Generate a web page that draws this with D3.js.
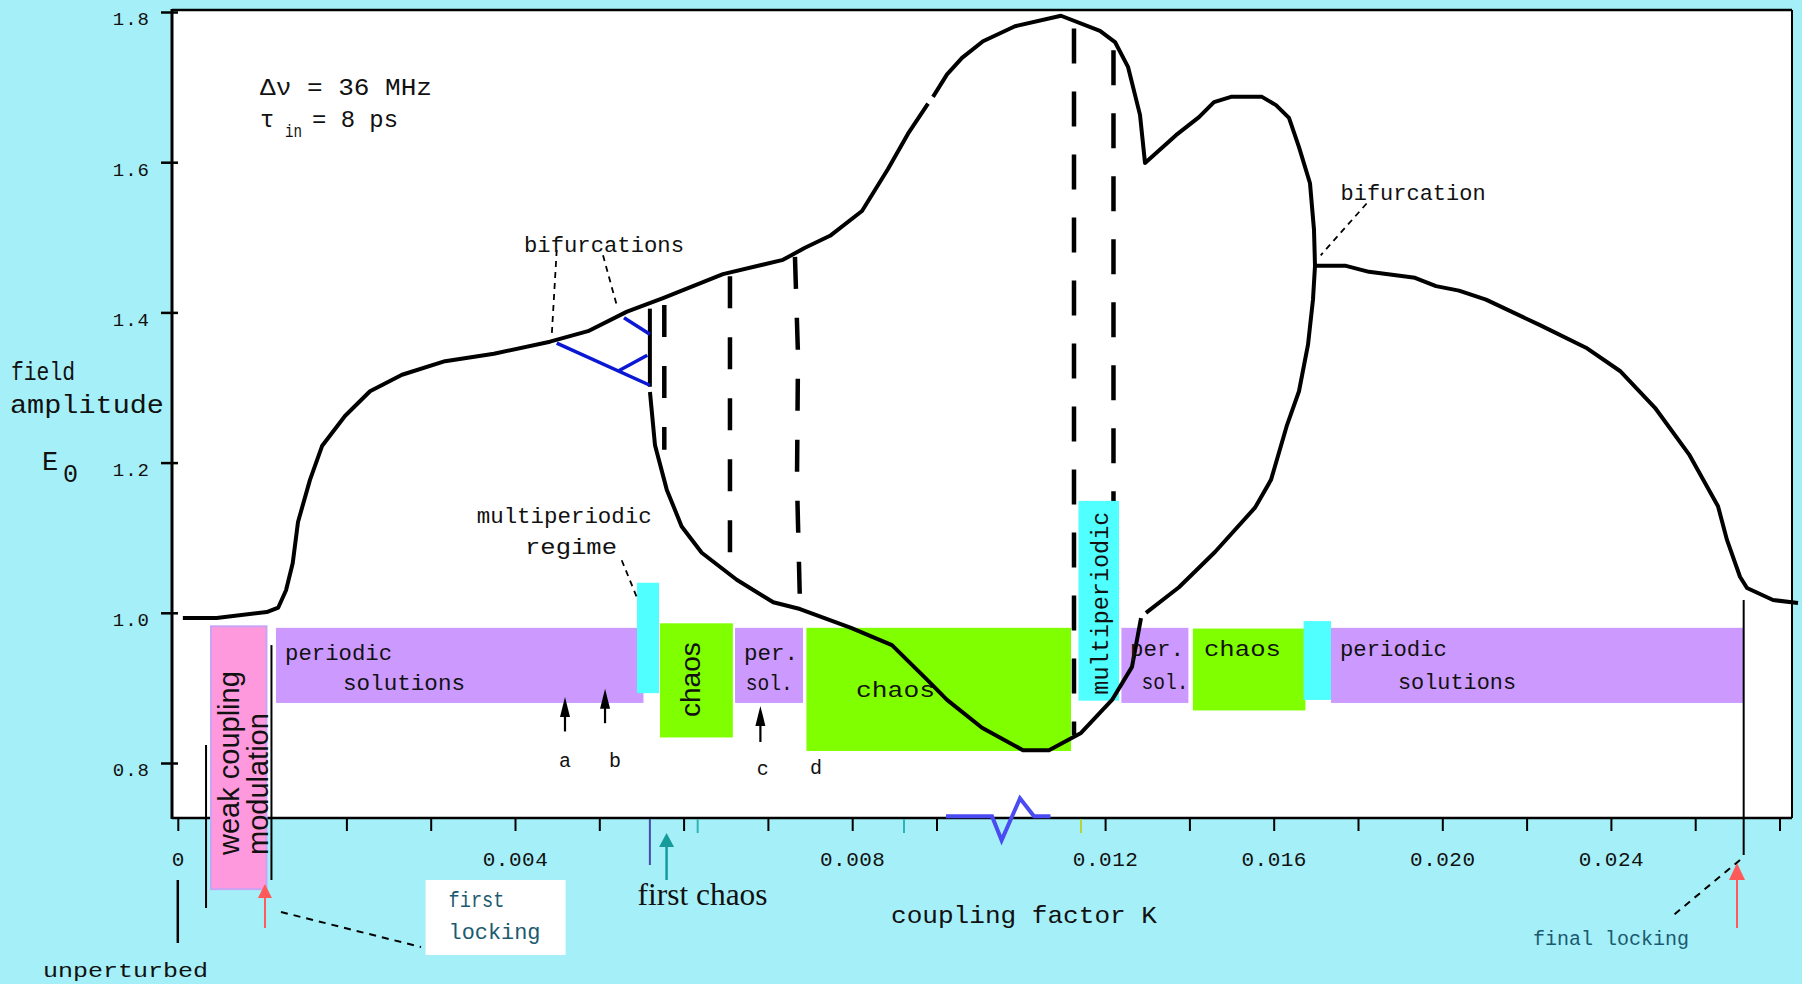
<!DOCTYPE html>
<html>
<head>
<meta charset="utf-8">
<title>Field amplitude vs coupling factor</title>
<script src="https://cdn.jsdelivr.net/npm/d3@7/dist/d3.min.js"></script>
<style>
  html, body { margin: 0; padding: 0; background: #a5f0f8; }
  svg { display: block; }
</style>
</head>
<body>
<svg id="chart" width="1802" height="984"></svg>
<script>
// ---------- axis definitions ----------
// the coupling axis is drawn piecewise: equal tick slots carry different K steps
const kBreaks     = [0, 0.008, 0.012, 0.028];
const kBreakSlots = [0, 8, 11, 19];
const xTickK  = [0, 0.001, 0.002, 0.003, 0.004, 0.005, 0.006, 0.007, 0.008, 0.009333,
                 0.012, 0.014, 0.016, 0.018, 0.020, 0.022, 0.024, 0.026, 0.028];
const xLabelK = [0, 0.004, 0.008, 0.012, 0.016, 0.020, 0.024];
const eTicks  = [0.8, 1.0, 1.2, 1.4, 1.6, 1.8];

// ---------- field amplitude branches [K, E0] ----------
const upperLeft = [
  [0.00006, 0.993], [0.00046, 0.993], [0.001055, 1.001], [0.001192, 1.007], [0.001284, 1.030],
  [0.001363, 1.066], [0.001426, 1.121], [0.001568, 1.177], [0.001711, 1.222], [0.001983, 1.262],
  [0.00228, 1.295], [0.00266, 1.317], [0.00317, 1.335], [0.00375, 1.345], [0.004415, 1.361],
  [0.004866, 1.375], [0.005329, 1.401], [0.005756, 1.419], [0.006467, 1.451], [0.007179, 1.470],
  [0.00744, 1.486], [0.007737, 1.502], [0.008155, 1.535], [0.008566, 1.591], [0.008883, 1.638],
  [0.009199, 1.678]
];
const upperRight = [
  [0.009278, 1.687], [0.0095, 1.717], [0.009737, 1.739], [0.010069, 1.761], [0.010575, 1.781],
  [0.011302, 1.795], [0.011919, 1.775], [0.012235, 1.760], [0.012543, 1.727], [0.012828, 1.663],
  [0.012947, 1.599], [0.013682, 1.636], [0.014228, 1.660], [0.014584, 1.680], [0.014987, 1.687],
  [0.015722, 1.687], [0.016055, 1.676], [0.016363, 1.659], [0.0166, 1.620], [0.016861, 1.572],
  [0.016956, 1.510], [0.01698, 1.462], [0.016932, 1.417], [0.016814, 1.357], [0.0166, 1.295],
  [0.016316, 1.250], [0.015936, 1.177], [0.015556, 1.140], [0.014607, 1.081], [0.013753, 1.034],
  [0.01297, 1.000]
];
const lowerLoop = [
  [0.005601, 1.294], [0.005661, 1.223], [0.0058, 1.164], [0.005977, 1.115], [0.006215, 1.080],
  [0.00663, 1.044], [0.007064, 1.014], [0.007381, 1.005], [0.007986, 0.980], [0.008629, 0.957],
  [0.009183, 0.911], [0.0095, 0.884], [0.010053, 0.847], [0.010701, 0.817], [0.011113, 0.817],
  [0.011619, 0.840], [0.012164, 0.884], [0.012638, 0.928], [0.012852, 0.993]
];
const rightBranch = [
  [0.01698, 1.462], [0.017715, 1.462], [0.018261, 1.454], [0.019352, 1.446], [0.019851, 1.435],
  [0.020396, 1.429], [0.021037, 1.417], [0.022318, 1.383], [0.023409, 1.353], [0.024216, 1.322],
  [0.025046, 1.273], [0.025853, 1.211], [0.026541, 1.142], [0.026754, 1.097], [0.027063, 1.048],
  [0.027229, 1.033], [0.027846, 1.017], [0.028439, 1.013]
];
const splitEdge = [[0.0056, 1.405], [0.0056, 1.301]];

// period-doubling branches
const doublingArms = [
  [[0.004495, 1.359], [0.0056, 1.303]],
  [[0.005293, 1.393], [0.0056, 1.371]],
  [[0.005225, 1.322], [0.005569, 1.343]]
];

// unstable / boundary lines
const boundaryShort = [
  [[0.005771, 1.410], [0.005771, 1.217]],
  [[0.00655, 1.448], [0.00655, 1.070]],
  [[0.007321, 1.474], [0.007357, 1.343], [0.007345, 1.174], [0.007381, 1.009]]
];
const boundaryLong = [
  [[0.011508, 1.778], [0.011508, 0.837]],
  [[0.012199, 1.749], [0.012199, 0.884]]
];

// ---------- regime bands ----------
const regimeKind   = ["weak", "periodic", "chaos", "periodic", "chaos", "periodic", "chaos", "periodic", "multi", "multi", "multi"];
const regimeKStart = [0.000394, 0.001165, 0.00572, 0.00661, 0.007457, 0.012387, 0.014083, 0.017359, 0.005447, 0.011579, 0.016709];
const regimeKEnd   = [0.001052, 0.005524, 0.006584, 0.007416, 0.011461, 0.013976, 0.016752, 0.027158, 0.005708, 0.01233, 0.017359];
const regimeELow   = [0.632, 0.880, 0.834, 0.880, 0.816, 0.880, 0.870, 0.880, 0.893, 0.883, 0.884];
const regimeEHigh  = [0.982, 0.980, 0.986, 0.980, 0.980, 0.980, 0.979, 0.980, 1.040, 1.149, 0.989];

const bandText = ["periodic", "solutions", "per.", "sol.", "chaos", "per.", "sol.", "chaos", "periodic", "solutions"];
const bandTextK = [0.001272, 0.00196, 0.006716, 0.006736, 0.00806, 0.012591, 0.012864, 0.014346, 0.017573, 0.018949];
const bandTextE = [0.937, 0.897, 0.937, 0.897, 0.888, 0.942, 0.899, 0.942, 0.942, 0.898];

const uprightText = ["weak coupling", "modulation", "chaos", "multiperiodic"];
const uprightK = [0.000726, 0.00107, 0.006195, 0.012069];
const uprightE = [0.6775, 0.6775, 0.911, 0.891];

// ---------- marked solutions a-d ----------
const pointName = ["a", "b", "c", "d"];
const pointArrowK = [0.004593, 0.005068, 0.006911];
const pointArrowTipE = [0.888, 0.899, 0.876];
const pointArrowTailE = [0.842, 0.853, 0.828];
const pointLabelK = [0.004593, 0.005186, 0.006938, 0.007571];
const pointLabelE = [0.795, 0.795, 0.784, 0.785];

// ---------- events on the coupling axis ----------
const firstLockingK = 0.001034;
const finalLockingK = 0.026992;
const firstChaosK = 0.005798;
const eventTickK = [0.0056, 0.006167, 0.008819, 0.011619];
const markerK = [0, 0.000335, 0.001111, 0.02715];
const markerETop = [0.6442, 0.824, 0.957, 1.017];
const markerEBottom = [0.5603, 0.6069, 0.6442, 0.6775];
const resonanceK = [0.009484, 0.010211, 0.010363, 0.010654, 0.010875, 0.011136];
const resonanceE = [0.729, 0.729, 0.697, 0.753, 0.729, 0.729];

// ---------- layout ----------
const svg = d3.select("#chart");
const plot = { left: 172, right: 1792, top: 10, bottom: 818 };
const slot = 84.3, slot0 = plot.left + 5.8;
const x = d3.scaleLinear().domain(kBreaks).range(kBreakSlots.map(s => slot0 + s * slot));
const y = d3.scaleLinear().domain([0.8, 1.8]).range([763, 12]);
const line = d3.line().x(d => x(d[0])).y(d => y(d[1]));

const MONO = "'Liberation Mono', 'Courier New', monospace";
const SANS = "'Liberation Sans', Arial, sans-serif";
const SERIF = "'Liberation Serif', 'Times New Roman', serif";
const INK = "#111";
const TEAL_TEXT = "#1b5a70";

svg.attr("font-family", MONO).attr("fill", INK);

const regimeFill = { weak: "#ff99dd", periodic: "#cc99ff", chaos: "#80ff00", multi: "#50ffff" };

// white plotting area
svg.append("rect")
  .attr("x", plot.left).attr("y", plot.top)
  .attr("width", plot.right - plot.left).attr("height", plot.bottom - plot.top)
  .attr("fill", "#fff");

// ---------- axes ----------
const gx = svg.append("g").attr("transform", `translate(0,${plot.bottom})`)
  .call(d3.axisBottom(x).tickValues(xTickK).tickSize(13).tickFormat(""));
gx.select(".domain").remove();
gx.selectAll(".tick line").attr("stroke", "#000").attr("stroke-width", 2);

const gxl = svg.append("g").attr("transform", `translate(0,${plot.bottom})`)
  .call(d3.axisBottom(x).tickValues(xLabelK).tickSize(0).tickPadding(33)
    .tickFormat(d => d === 0 ? "0" : d3.format(".3f")(d)));
gxl.select(".domain").remove();
gxl.attr("font-family", MONO).attr("font-size", 21);
gxl.selectAll("text").attr("fill", INK).attr("letter-spacing", 0.5);

const gy = svg.append("g").attr("transform", `translate(${plot.left + 6},0)`)
  .call(d3.axisLeft(y).tickValues(eTicks).tickSize(17).tickPadding(11).tickFormat(d3.format(".1f")));
gy.select(".domain").remove();
gy.attr("font-family", MONO).attr("font-size", 19);
gy.selectAll(".tick line").attr("stroke", "#000").attr("stroke-width", 2.5);
gy.selectAll("text").attr("fill", INK).attr("dy", "0.68em").attr("letter-spacing", 1);

// frame
const frame = svg.append("g").attr("stroke", "#000").attr("fill", "none");
frame.append("line").attr("x1", plot.left).attr("x2", plot.right).attr("y1", plot.top).attr("y2", plot.top).attr("stroke-width", 2.5);
frame.append("line").attr("x1", plot.right).attr("x2", plot.right).attr("y1", plot.top).attr("y2", plot.bottom).attr("stroke-width", 2);
frame.append("line").attr("x1", plot.left).attr("x2", plot.left).attr("y1", plot.top - 1).attr("y2", plot.bottom + 1).attr("stroke-width", 3);
frame.append("line").attr("x1", plot.left).attr("x2", plot.right).attr("y1", plot.bottom).attr("y2", plot.bottom).attr("stroke-width", 2.5);

// ---------- boundary lines ----------
const gDash = svg.append("g").attr("fill", "none").attr("stroke", "#000").attr("stroke-width", 4.5);
gDash.selectAll("path.short").data(boundaryShort).join("path").attr("class", "short")
  .attr("d", line).attr("stroke-dasharray", "32,29");
gDash.selectAll("path.long").data(boundaryLong).join("path").attr("class", "long")
  .attr("d", line).attr("stroke-dasharray", "35,28");

// ---------- regime bands ----------
const regimeIdx = d3.range(regimeKind.length);
const drawOrder = regimeIdx.filter(i => regimeKind[i] !== "multi").concat(regimeIdx.filter(i => regimeKind[i] === "multi"));
svg.append("g").selectAll("rect").data(drawOrder).join("rect")
  .attr("x", i => x(regimeKStart[i]))
  .attr("y", i => y(regimeEHigh[i]))
  .attr("width", i => x(regimeKEnd[i]) - x(regimeKStart[i]))
  .attr("height", i => y(regimeELow[i]) - y(regimeEHigh[i]))
  .attr("fill", i => regimeFill[regimeKind[i]])
  .attr("stroke", i => regimeKind[i] === "weak" ? "#c8a4f4" : "none")
  .attr("stroke-width", 2);

// ---------- field amplitude curves ----------
const gCurve = svg.append("g").attr("fill", "none").attr("stroke", "#000")
  .attr("stroke-width", 4).attr("stroke-linejoin", "round");
[upperLeft, upperRight, lowerLoop, rightBranch, splitEdge].forEach(seg => gCurve.append("path").attr("d", line(seg)));

svg.append("g").attr("fill", "none").attr("stroke", "#0a18d4").attr("stroke-width", 3.5)
  .selectAll("path").data(doublingArms).join("path").attr("d", line);

// ---------- band labels ----------
const bandLen = [107, 122, 54, 47, 79, 54, 47, 77, 107, 118];
svg.append("g").attr("font-family", MONO).attr("font-size", 22)
  .selectAll("text").data(bandText).join("text")
  .attr("x", (d, i) => x(bandTextK[i])).attr("y", (d, i) => y(bandTextE[i]))
  .attr("textLength", (d, i) => bandLen[i]).attr("lengthAdjust", "spacingAndGlyphs")
  .text(d => d);

const uprightStyle = [
  { font: SANS, size: 29, anchor: "start" },
  { font: SANS, size: 29, anchor: "start" },
  { font: SANS, size: 28, anchor: "middle" },
  { font: MONO, size: 23, anchor: "start", len: 183 }
];
svg.append("g").selectAll("text").data(uprightText).join("text")
  .attr("transform", (d, i) => `translate(${x(uprightK[i])},${y(uprightE[i])}) rotate(-90)`)
  .attr("font-family", (d, i) => uprightStyle[i].font)
  .attr("font-size", (d, i) => uprightStyle[i].size)
  .attr("text-anchor", (d, i) => uprightStyle[i].anchor)
  .each(function (d, i) { if (uprightStyle[i].len) d3.select(this).attr("textLength", uprightStyle[i].len).attr("lengthAdjust", "spacingAndGlyphs"); })
  .text(d => d);

// ---------- arrows ----------
function arrow(g, px, yTip, yTail, headW, headL, color, width) {
  g.append("line").attr("x1", px).attr("x2", px).attr("y1", yTip + headL - 1).attr("y2", yTail)
    .attr("stroke", color).attr("stroke-width", width);
  g.append("path")
    .attr("d", `M${px},${yTip}L${px - headW / 2},${yTip + headL}L${px + headW / 2},${yTip + headL}Z`)
    .attr("fill", color);
}
const gArrow = svg.append("g");
pointArrowK.forEach((k, i) => arrow(gArrow, x(k), y(pointArrowTipE[i]), y(pointArrowTailE[i]), 10, 20, "#000", 2.2));
svg.append("g").attr("font-family", MONO).attr("font-size", 20)
  .selectAll("text").data(pointName).join("text")
  .attr("x", (d, i) => x(pointLabelK[i])).attr("y", (d, i) => y(pointLabelE[i]))
  .attr("text-anchor", "middle")
  .text(d => d);

// ---------- annotation leaders ----------
const leaders = [
  [[0.004495, 1.483], [0.004435, 1.368]],
  [[0.005044, 1.476], [0.005206, 1.410]],
  [[0.005266, 1.070], [0.005444, 1.021]],
  [[0.018204, 1.545], [0.017115, 1.476]]
];
svg.append("g").attr("fill", "none").attr("stroke", "#000").attr("stroke-width", 1.8)
  .attr("stroke-dasharray", "6,5")
  .selectAll("path").data(leaders).join("path").attr("d", line);

const notes = [
  { t: "bifurcations", k: 0.004107, e: 1.481, len: 160 },
  { t: "multiperiodic", k: 0.003546, e: 1.120, len: 175 },
  { t: "regime", k: 0.004119, e: 1.078, len: 92 },
  { t: "bifurcation", k: 0.017587, e: 1.550, len: 145 }
];
svg.append("g").attr("font-family", MONO).attr("font-size", 22)
  .selectAll("text").data(notes).join("text")
  .attr("x", d => x(d.k)).attr("y", d => y(d.e))
  .attr("textLength", d => d.len).attr("lengthAdjust", "spacingAndGlyphs")
  .text(d => d.t);

// ---------- parameter block ----------
const gPar = svg.append("g").attr("font-family", MONO);
gPar.append("text").attr("x", plot.left + 88).attr("y", 95).attr("font-size", 24)
  .attr("textLength", 172).attr("lengthAdjust", "spacingAndGlyphs").text("Δν = 36 MHz");
gPar.append("text").attr("x", plot.left + 88).attr("y", 127).attr("font-size", 24).text("τ");
gPar.append("text").attr("x", plot.left + 113).attr("y", 137).attr("font-size", 19)
  .attr("textLength", 17).attr("lengthAdjust", "spacingAndGlyphs").text("in");
gPar.append("text").attr("x", plot.left + 140).attr("y", 127).attr("font-size", 24)
  .attr("textLength", 86).attr("lengthAdjust", "spacingAndGlyphs").text("= 8 ps");

// ---------- axis titles ----------
const gTitle = svg.append("g").attr("font-family", MONO);
gTitle.append("text").attr("x", 11).attr("y", 380).attr("font-size", 26)
  .attr("textLength", 64).attr("lengthAdjust", "spacingAndGlyphs").text("field");
gTitle.append("text").attr("x", 10).attr("y", 413).attr("font-size", 26)
  .attr("textLength", 154).attr("lengthAdjust", "spacingAndGlyphs").text("amplitude");
gTitle.append("text").attr("x", 42).attr("y", 470).attr("font-size", 27).text("E");
gTitle.append("text").attr("x", 63).attr("y", 482).attr("font-size", 25).text("0");
gTitle.append("text").attr("x", 891).attr("y", 923).attr("font-size", 24)
  .attr("textLength", 266).attr("lengthAdjust", "spacingAndGlyphs").text("coupling factor K");

// ---------- events below the coupling axis ----------
const gEv = svg.append("g");
gEv.selectAll("line.marker").data(markerK).join("line").attr("class", "marker")
  .attr("x1", d => x(d)).attr("x2", d => x(d))
  .attr("y1", (d, i) => y(markerETop[i])).attr("y2", (d, i) => y(markerEBottom[i]))
  .attr("stroke", "#000").attr("stroke-width", (d, i) => i === 0 ? 2.5 : 2);

const eventColor = ["#4a4aa8", "#2fb2b2", "#2fb2b2", "#b4d43c"];
const eventDepth = [47, 15, 15, 15];
gEv.selectAll("line.event").data(eventTickK).join("line").attr("class", "event")
  .attr("x1", d => x(d)).attr("x2", d => x(d))
  .attr("y1", plot.bottom + 1).attr("y2", (d, i) => plot.bottom + eventDepth[i])
  .attr("stroke", (d, i) => eventColor[i]).attr("stroke-width", 2);

gEv.append("path").attr("d", d3.line()(resonanceK.map((k, i) => [x(k), y(resonanceE[i])])))
  .attr("fill", "none").attr("stroke", "#4b4bf2").attr("stroke-width", 4).attr("stroke-linejoin", "miter");

// first chaos
arrow(gEv, x(firstChaosK), plot.bottom + 15, plot.bottom + 62, 15, 14, "#179a9a", 2.5);
gEv.append("text").attr("x", x(firstChaosK) - 29).attr("y", plot.bottom + 87)
  .attr("font-family", SERIF).attr("font-size", 31)
  .attr("textLength", 130).attr("lengthAdjust", "spacingAndGlyphs").text("first chaos");

// first locking
arrow(gEv, x(firstLockingK), plot.bottom + 66, plot.bottom + 110, 14, 14, "#ff5a5a", 2);
gEv.append("line").attr("x1", x(firstLockingK) + 16).attr("y1", plot.bottom + 94)
  .attr("x2", 421).attr("y2", plot.bottom + 129)
  .attr("stroke", "#000").attr("stroke-width", 2).attr("stroke-dasharray", "7,6");
gEv.append("rect").attr("x", 425.6).attr("y", plot.bottom + 62).attr("width", 140).attr("height", 75).attr("fill", "#fff");
const gLock = gEv.append("g").attr("font-family", MONO).attr("font-size", 22).attr("fill", TEAL_TEXT);
gLock.append("text").attr("x", 448.5).attr("y", plot.bottom + 89)
  .attr("textLength", 56).attr("lengthAdjust", "spacingAndGlyphs").text("first");
gLock.append("text").attr("x", 448.5).attr("y", plot.bottom + 121)
  .attr("textLength", 92).attr("lengthAdjust", "spacingAndGlyphs").text("locking");

// final locking
arrow(gEv, x(finalLockingK), plot.bottom + 45, plot.bottom + 110, 16, 17, "#ff5a5a", 2);
gEv.append("line").attr("x1", x(finalLockingK) + 3).attr("y1", plot.bottom + 42)
  .attr("x2", 1670).attr("y2", plot.bottom + 100)
  .attr("stroke", "#000").attr("stroke-width", 2).attr("stroke-dasharray", "7,6");
gEv.append("text").attr("x", 1533).attr("y", plot.bottom + 127)
  .attr("font-family", MONO).attr("font-size", 20).attr("fill", TEAL_TEXT)
  .attr("textLength", 156).attr("lengthAdjust", "spacingAndGlyphs").text("final locking");

// unperturbed
gEv.append("text").attr("x", 43).attr("y", plot.bottom + 159)
  .attr("font-family", MONO).attr("font-size", 21)
  .attr("textLength", 165).attr("lengthAdjust", "spacingAndGlyphs").text("unperturbed");
</script>
</body>
</html>
